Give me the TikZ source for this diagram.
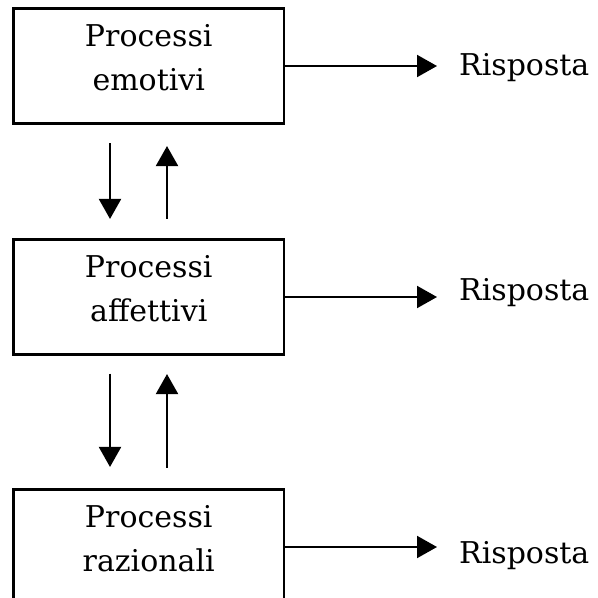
\documentclass[tikz,border=0pt]{standalone}
\usepackage{fontspec}
\setmainfont{DejaVu Serif}
\usetikzlibrary{arrows.meta}
\begin{document}
\begin{tikzpicture}[x=1pt,y=-1pt,
  font=\fontsize{30}{44}\selectfont,
  procbox/.style={draw, line width=2.1pt, minimum width=270.5pt, minimum height=115pt,
    inner sep=0pt, align=center, text height=67pt, text depth=19pt},
  link/.style={line width=2.1pt, -{Triangle[length=20pt,width=22pt]}},
  resp/.style={inner sep=0pt, anchor=base west}]
\useasboundingbox (0,0) rectangle (598,598);
\clip (0,0) rectangle (598,598);

% the three levels of processing
\node[procbox] (b1) at (148.75,66)  {Processi\\emotivi};
\node[procbox] (b2) at (148.75,297) {Processi\\affettivi};
\node[procbox] (b3) at (148.75,547) {Processi\\razionali};

% responses
\node[resp] (r1) at (459,75)  {Risposta};
\node[resp] (r2) at (459,300) {Risposta};
\node[resp] (r3) at (459,563) {Risposta};

\draw[link, shorten >=22pt] (b1) -- (b1 -| r1.west);
\draw[link, shorten >=22pt] (b2) -- (b2 -| r2.west);
\draw[link, shorten >=22pt] (b3) -- (b3 -| r3.west);

% exchanges between neighbouring levels
\draw[link] ([shift={(-38.75,18.5)}]b1.south) -- ([shift={(-38.75,-19.5)}]b2.north);
\draw[link] ([shift={(18.25,-19.5)}]b2.north) -- ([shift={(18.25,21.5)}]b1.south);
\draw[link] ([shift={(-38.75,18)}]b2.south) -- ([shift={(-38.75,-21.5)}]b3.north);
\draw[link] ([shift={(18.25,-20.5)}]b3.north) -- ([shift={(18.25,18.5)}]b2.south);
\end{tikzpicture}
\end{document}
